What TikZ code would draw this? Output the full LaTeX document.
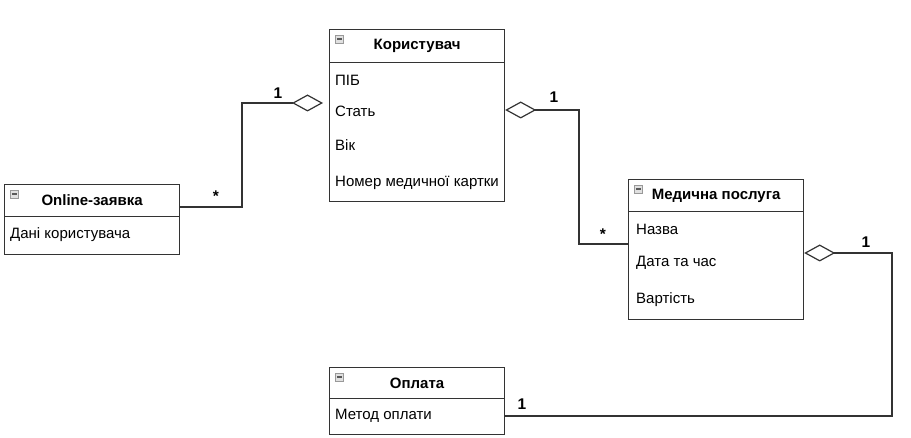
\documentclass[tikz,border=0pt]{standalone}
\usepackage{fontspec}
\setmainfont{Liberation Sans}
\usetikzlibrary{arrows.meta, positioning}

\begin{document}
\begin{tikzpicture}[
    x=1pt, y=-1pt,
    box/.style={rectangle, draw=black!80, line width=1.2pt, minimum width=175pt, anchor=north west, inner sep=0pt},
    head/.style={rectangle, draw=black!80, line width=1.2pt, minimum width=175pt, anchor=north west, font=\fontsize{15}{17}\selectfont\bfseries},
    attr/.style={anchor=west, inner sep=0pt, font=\fontsize{15}{17}\selectfont},
    icon/.style={rectangle, draw=black!40, fill=black!12, line width=0.8pt, minimum size=8pt, inner sep=0pt, text=black!65},
    mult/.style={font=\fontsize{15.5}{17}\selectfont\bfseries},
    agg/.style={draw=black!80, line width=1.2pt, {Diamond[open, length=31pt, width=17pt]}-}
]
    \useasboundingbox[fill=white] (0,0) rectangle (911,438);

    % Classes
    \node[box, minimum height=172pt] (user) at (329,29) {};
    \node[head, minimum height=33pt] (userhead) at (user.north west) {Користувач};
    \node[icon] (usericon) at ([shift={(10.5,10)}]user.north west) {\rule{5pt}{1.3pt}};

    \node[box, minimum height=70pt] (apply) at (4,184) {};
    \node[head, minimum height=32pt] (applyhead) at (apply.north west) {Online-заявка};
    \node[icon] (applyicon) at ([shift={(10.5,10)}]apply.north west) {\rule{5pt}{1.3pt}};

    \node[box, minimum height=140pt] (med) at (628,179) {};
    \node[head, minimum height=32pt] (medhead) at (med.north west) {Медична послуга};
    \node[icon] (medicon) at ([shift={(10.5,10)}]med.north west) {\rule{5pt}{1.3pt}};

    \node[box, minimum height=67pt] (pay) at (329,367) {};
    \node[head, minimum height=31pt] (payhead) at (pay.north west) {Оплата};
    \node[icon] (payicon) at ([shift={(10.5,10)}]pay.north west) {\rule{5pt}{1.3pt}};

    % Attributes
    \node[attr] (pib) at (335,80) {ПІБ};
    \node[attr] (sex) at (335,111) {Стать};
    \node[attr] (age) at (335,145) {Вік};
    \node[attr] (card) at (335,183) {Номер медичної картки};
    \node[attr] (data) at (10,235) {Дані користувача};
    \node[attr] (name) at (636,229) {Назва};
    \node[attr] (date) at (636,263) {Дата та час};
    \node[attr] (cost) at (636,300) {Вартість};
    \node[attr] (method) at (335,416) {Метод оплати};

    % Bends
    \coordinate (b0) at (242,103);
    \coordinate (b1) at (242,207);
    \coordinate (b2) at (579,110);
    \coordinate (b3) at (579,244);
    \coordinate (b4) at (892,253);
    \coordinate (b5) at (892,416);

    % Aggregations
    \draw[agg] ([xshift=-6pt]user.west |- b0) -- (b0) -- (b1) -- (apply.east |- b1);
    \draw[agg] (user.east |- b2) -- (b2) -- (b3) -- (med.west |- b3);
    \draw[agg] (med.east |- b4) -- (b4) -- (b5) -- (pay.east |- b5);

    % Multiplicities
    \node[mult] (m0) at (278,93) {1};
    \node[mult] (m1) at (216,196) {*};
    \node[mult] (m2) at (554,97) {1};
    \node[mult] (m3) at (603,234) {*};
    \node[mult] (m4) at (866,242) {1};
    \node[mult] (m5) at (522,404) {1};
\end{tikzpicture}
\end{document}
